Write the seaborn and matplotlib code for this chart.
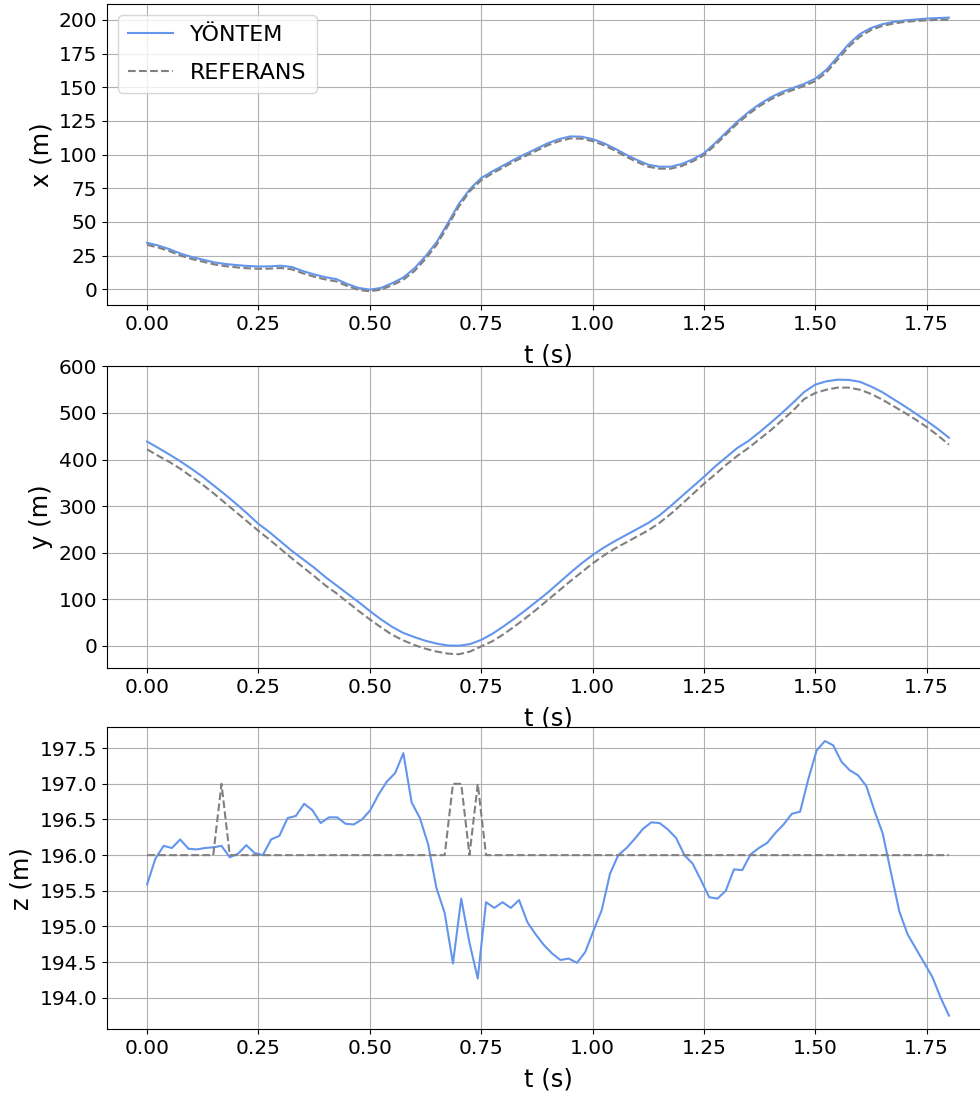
import numpy as np
import pandas as pd
import matplotlib
matplotlib.use("Agg")
import matplotlib.pyplot as plt
from matplotlib.ticker import MultipleLocator, FormatStrFormatter
import seaborn as sns

# ---- data -------------------------------------------------------------
# smooth position channels, sampled every 0.025 s
t_xy = [round(0.025 * i, 3) for i in range(73)]

x_method = [34.5, 32.5, 29.8, 26.5, 24.0, 22.0, 20.0, 18.8, 18.0, 17.3,
            16.9, 17.0, 17.5, 16.5, 13.5, 11.0, 9.0, 7.5, 3.8, 1.0,
            -0.3, 1.0, 4.5, 8.7, 15.5, 24.5, 35.0, 49.0, 63.5, 74.5,
            82.6, 87.5, 92.0, 96.5, 100.5, 104.5, 108.5, 111.5, 113.5, 113.3,
            111.5, 108.5, 104.5, 100.0, 96.0, 92.5, 91.0, 91.0, 93.0, 96.5,
            101.0, 108.5, 116.5, 124.5, 131.5, 137.5, 142.5, 146.5, 149.5, 152.5,
            156.4, 163.0, 172.5, 182.0, 189.5, 194.0, 196.8, 198.5, 199.6, 200.3,
            201.0, 201.4, 201.7]
x_ref = [33.0, 31.0, 28.3, 25.0, 22.5, 20.5, 18.5, 17.2, 16.3, 15.6,
         15.2, 15.3, 15.8, 14.8, 11.8, 9.3, 7.3, 5.8, 2.3, -0.5,
         -1.5, -0.3, 3.0, 7.0, 13.5, 22.5, 33.0, 47.0, 61.5, 73.0,
         81.0, 86.0, 90.5, 95.0, 99.0, 103.0, 107.0, 110.0, 112.0, 111.8,
         110.0, 107.0, 103.0, 98.5, 94.5, 91.0, 89.5, 89.5, 91.5, 95.0,
         99.5, 107.0, 115.0, 123.0, 130.0, 136.0, 141.0, 145.0, 148.0, 151.0,
         154.5, 161.0, 170.5, 180.0, 187.5, 192.5, 195.5, 197.3, 198.5, 199.2,
         199.7, 200.0, 200.2]

y_method = [438.7, 425, 411, 396, 380, 363, 344, 325, 305, 284,
            262, 244, 224, 204, 186, 168, 148, 130, 112, 94,
            75, 57, 41, 28, 19, 11, 5, 1, 0.5, 4,
            13, 26, 42, 59, 77, 96, 115, 136, 157, 177,
            195, 211, 225, 238, 251, 264, 280, 300, 321, 342,
            363, 385, 405, 425, 440, 459, 479, 500, 522, 545,
            561, 568, 571.5, 571, 567, 557, 545, 530, 515, 499,
            483, 466, 447]
y_ref = [422, 408, 395, 380, 363, 346, 327, 307, 287, 267,
         247, 228, 208, 188, 169, 150, 130, 113, 94, 75,
         57, 40, 24, 12, 2, -6, -12, -16.5, -17.8, -12,
         -1, 10, 25, 42, 60, 79, 99, 119, 139, 158,
         177, 194, 209, 222, 235, 248, 264, 283, 304, 326,
         348, 368, 389, 408, 425, 444, 463, 484, 505, 530,
         543, 550, 554.5, 554.5, 550, 541, 529, 515, 501, 486,
         470, 452, 432]

# altitude channel, 98 samples over 1.8 s
t_z = list(np.linspace(0.0, 1.8, 98))

z_method = [195.59, 195.95, 196.13, 196.10, 196.22, 196.09, 196.08, 196.10, 196.11, 196.13,
            195.97, 196.02, 196.14, 196.03, 196.00, 196.22, 196.27, 196.52, 196.55, 196.72,
            196.63, 196.45, 196.53, 196.53, 196.44, 196.43, 196.50, 196.63, 196.85, 197.03,
            197.15, 197.43, 196.74, 196.52, 196.15, 195.54, 195.19, 194.48, 195.39, 194.77,
            194.27, 195.34, 195.26, 195.34, 195.26, 195.37, 195.06, 194.89, 194.74, 194.62,
            194.53, 194.55, 194.49, 194.64, 194.94, 195.23, 195.74, 196.00, 196.10, 196.23,
            196.37, 196.46, 196.45, 196.36, 196.24, 196.00, 195.88, 195.65, 195.41, 195.39,
            195.50, 195.80, 195.79, 196.01, 196.10, 196.17, 196.31, 196.43, 196.58, 196.61,
            197.07, 197.47, 197.60, 197.54, 197.31, 197.19, 197.12, 196.97, 196.62, 196.30,
            195.75, 195.21, 194.89, 194.69, 194.49, 194.29, 194.00, 193.75]
z_ref = [196.0] * 98
for k in (9, 37, 38, 40):
    z_ref[k] = 197.0

labels = ["YÖNTEM", "REFERANS"]
y_labels = ["x (m)", "y (m)", "z (m)"]
y_steps = [25, 100, 0.5]

# ---- figure -----------------------------------------------------------
plt.rcParams["font.family"] = ["DejaVu Sans"]
fig = plt.figure(figsize=(9.8, 10.97), dpi=100)
axes = [fig.add_axes([0.1092, 0.7220, 0.900, 0.2744]),
        fig.add_axes([0.1092, 0.3911, 0.900, 0.2753]),
        fig.add_axes([0.1092, 0.0617, 0.900, 0.2753])]

panels = [(t_xy, x_method, x_ref), (t_xy, y_method, y_ref), (t_z, z_method, z_ref)]

for i, (ax, (tt, m, r)) in enumerate(zip(axes, panels)):
    df = pd.DataFrame({"t": tt, "m": m, "r": r})
    sns.lineplot(data=df, x="t", y="m", ax=ax, color="cornflowerblue",
                 linewidth=1.5, label=labels[0])
    sns.lineplot(data=df, x="t", y="r", ax=ax, color="gray",
                 linewidth=1.5, linestyle="--", label=labels[1])
    ax.grid(True, color="#b0b0b0", linewidth=0.8)
    ax.set_axisbelow(True)
    ax.set_xlabel("t (s)", fontsize=17.5, labelpad=7)
    ax.set_ylabel(y_labels[i], fontsize=17.5)
    ax.xaxis.set_major_locator(MultipleLocator(0.25))
    ax.yaxis.set_major_locator(MultipleLocator(y_steps[i]))
    ax.tick_params(labelsize=14.5)
    if i == 0:
        ax.legend(loc="upper left", fontsize=16, labelspacing=0.8,
                  borderpad=0.45)
    else:
        leg = ax.get_legend()
        if leg is not None:
            leg.remove()

axes[2].yaxis.set_major_formatter(FormatStrFormatter("%.1f"))

fig.savefig("out.png", dpi=100)
